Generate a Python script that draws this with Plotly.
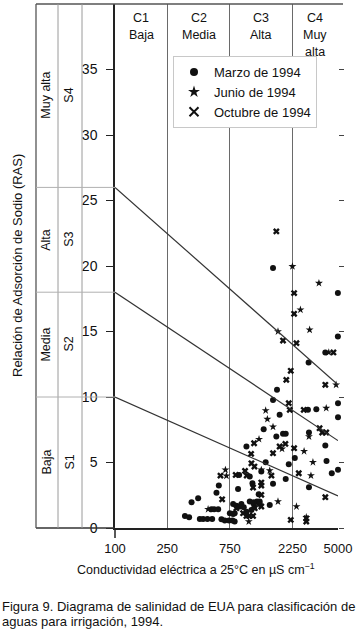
import math
import plotly.graph_objects as go

# ---------------- data ----------------
x_ticks = [100, 250, 750, 2250, 5000]
y_ticks = [0, 5, 10, 15, 20, 25, 30, 35]
ec_class_bounds = [100, 250, 750, 2250, 5000]
ec_class_labels = [["C1", "Baja"], ["C2", "Media"], ["C3", "Alta"], ["C4", "Muy", "alta"]]
sar_class_bounds = [0, 10, 18, 26, 40]
sar_class_names = ["Baja", "Media", "Alta", "Muy alta"]
sar_class_codes = ["S1", "S2", "S3", "S4"]

boundary_ec = [100, 5000]
boundary_sar_start = [10, 18, 26]
boundary_sar_end = [2.45, 6.67, 10.94]

marzo_ec = [1599, 4990, 4990, 4003, 2986, 1715, 1599, 5000, 2951, 3419, 5000, 1796, 1357, 1695, 1906,
            1998, 3004, 4003, 1003, 2343, 1406, 2108, 4087, 5000, 4483, 882, 1063, 1302, 1599, 1998,
            3004, 618, 593, 866, 1115, 1244, 383, 430, 1510, 794, 841, 892, 918, 957, 1063,
            1141, 1208, 1266, 1266, 1003, 1095, 543, 569, 611, 816, 750, 794, 341, 367, 443,
            469, 506, 550, 647, 686, 739, 785, 816]
marzo_sar = [19.84, 17.93, 14.62, 13.40, 12.63, 10.55, 9.78, 9.53, 9.02, 9.07, 8.46, 8.64, 7.54, 6.98, 7.19,
             7.19, 7.29, 6.29, 6.22, 5.35, 5.02, 4.87, 5.12, 4.44, 4.18, 4.05, 3.93, 4.31, 3.37, 3.75,
             3.11, 3.24, 2.70, 2.98, 3.42, 2.58, 1.97, 2.27, 1.76, 1.84, 1.69, 1.64, 1.84, 1.58, 2.02,
             1.97, 2.02, 2.02, 1.84, 1.25, 1.38, 1.43, 1.43, 1.43, 1.13, 1.13, 1.07, 0.92, 0.82, 0.69,
             0.69, 0.69, 0.69, 0.67, 0.57, 0.57, 0.57, 0.49]

junio_ec = [2248, 3579, 2587, 1745, 3039, 4253, 4836, 4067, 1406, 1448, 1599, 3004, 1251, 1873, 2758,
            3221, 3111, 694, 1302, 1510, 706, 1745, 2412, 512, 1045, 2866]
junio_sar = [19.97, 18.69, 16.66, 15.00, 15.13, 13.40, 10.93, 9.15, 8.97, 8.31, 7.72, 6.98, 6.78, 6.04, 5.86,
             5.02, 4.00, 4.44, 4.44, 4.38, 3.98, 2.02, 1.64, 1.43, 0.49, 0.82]

octubre_ec = [1695, 2315, 2315, 1906, 2412, 4615, 2183, 2019, 4003, 2108, 2145, 2742, 3619, 3788, 4067,
              1147, 1796, 1986, 2315, 1599, 1089, 1095, 1154, 2512, 636, 831, 979, 1008, 1555, 4003,
              655, 1127, 1302, 1302, 1302, 841, 1141, 1302, 1160, 946, 1003, 1051, 1127, 2183, 2866,
              2866]
octubre_sar = [22.64, 17.93, 16.35, 14.31, 14.11, 13.40, 12.00, 11.31, 10.93, 9.53, 9.02, 9.02, 7.62, 7.29, 7.29,
               6.47, 6.22, 6.42, 6.09, 5.71, 5.66, 4.94, 4.69, 4.18, 4.00, 4.05, 4.36, 4.00, 4.00, 2.35,
               2.19, 3.09, 3.47, 3.24, 2.53, 1.51, 1.64, 1.64, 1.51, 1.13, 0.92, 0.92, 0.92, 0.62, 0.74,
               0.49]

series_names = ["Marzo de 1994", "Junio de 1994", "Octubre de 1994"]

# ---------------- figure ----------------
FONT = "Liberation Sans, Arial, Helvetica, sans-serif"
NARROW = "Liberation Sans Narrow, Arial Narrow, Liberation Sans, sans-serif"
INK = "#111111"

fig = go.Figure()

# class boundary lines (drawn on the mirrored right-hand y axis, same scale)
for s0, s1 in zip(boundary_sar_start, boundary_sar_end):
    fig.add_trace(go.Scatter(x=boundary_ec, y=[s0, s1], mode="lines", yaxis="y2",
                             line=dict(color="#333333", width=1.2),
                             showlegend=False, hoverinfo="skip"))

fig.add_trace(go.Scatter(x=marzo_ec, y=marzo_sar, mode="markers", name=series_names[0],
                         marker=dict(symbol="circle", size=6, color=INK),
                         cliponaxis=False, showlegend=False))
fig.add_trace(go.Scatter(x=junio_ec, y=junio_sar, mode="markers", name=series_names[1],
                         marker=dict(symbol="star", size=6, color=INK),
                         cliponaxis=False, showlegend=False))
fig.add_trace(go.Scatter(x=octubre_ec, y=octubre_sar, mode="markers", name=series_names[2],
                         marker=dict(symbol="x", size=6, color=INK, line=dict(width=0)),
                         cliponaxis=False, showlegend=False))

fig.add_trace(go.Scatter(x=[None], y=[None], mode="markers", name=series_names[0],
                         marker=dict(symbol="circle", size=8, color=INK)))
fig.add_trace(go.Scatter(x=[None], y=[None], mode="markers", name=series_names[1],
                         marker=dict(symbol="star", size=9, color=INK)))
fig.add_trace(go.Scatter(x=[None], y=[None], mode="markers", name=series_names[2],
                         marker=dict(symbol="x-thin-open", size=9, color=INK,
                                     line=dict(width=2, color=INK))))

PW = 223.0
PH = 524.0
def px_to_paper_x(px):
    return (px - 115.0) / PW

def py_to_paper_y(py):
    return (528.0 - py) / PH

tbl_left = px_to_paper_x(36)
tbl_col1 = px_to_paper_x(58)
tbl_col2 = px_to_paper_x(82)

shapes = []
shapes.append(dict(type="line", xref="paper", yref="paper", x0=tbl_left, x1=px_to_paper_x(343),
                   y0=1, y1=1, line=dict(color="#555555", width=1.5)))
shapes.append(dict(type="line", xref="paper", yref="paper", x0=tbl_left, x1=0,
                   y0=0, y1=0, line=dict(color="#333333", width=1.5)))
shapes.append(dict(type="line", xref="paper", yref="paper", x0=tbl_left, x1=tbl_left,
                   y0=0, y1=1, line=dict(color="#555555", width=1.3)))
for xc in (tbl_col1, tbl_col2):
    shapes.append(dict(type="line", xref="paper", yref="paper", x0=xc, x1=xc,
                       y0=0, y1=1, line=dict(color="#9a9a9a", width=1)))
for b in sar_class_bounds[1:-1]:
    shapes.append(dict(type="line", xref="paper", yref="y", x0=tbl_left, x1=0,
                       y0=b, y1=b, line=dict(color="#b0b0b0", width=1)))
shapes.append(dict(type="line", xref="paper", yref="paper", x0=0, x1=0,
                   y0=0, y1=-10 / PH, line=dict(color="#222222", width=1.5)))

annotations = []
for i in range(4):
    mid = (sar_class_bounds[i] + sar_class_bounds[i + 1]) / 2
    annotations.append(dict(text=sar_class_names[i], xref="paper", yref="y",
                            x=px_to_paper_x(46), y=mid, textangle=-90, showarrow=False,
                            xanchor="center", yanchor="middle",
                            font=dict(size=12.5, color=INK, family=FONT)))
    annotations.append(dict(text=sar_class_codes[i], xref="paper", yref="y",
                            x=px_to_paper_x(69), y=mid, textangle=-90, showarrow=False,
                            xanchor="center", yanchor="middle",
                            font=dict(size=12.5, color=INK, family=FONT)))

header_py = [18, 35, 52]
for i, lines in enumerate(ec_class_labels):
    xm = (math.log10(ec_class_bounds[i]) + math.log10(ec_class_bounds[i + 1])) / 2
    for j, t in enumerate(lines):
        annotations.append(dict(text=t, xref="x", yref="paper", x=xm,
                                y=py_to_paper_y(header_py[j]), xanchor="center", yanchor="middle",
                                showarrow=False, font=dict(size=12.5, color=INK, family=FONT)))

annotations.append(dict(text="Relación de Adsorción de Sodio (RAS)", xref="paper", yref="paper",
                        x=px_to_paper_x(17), y=0.5, textangle=-90, showarrow=False,
                        xanchor="center", yanchor="middle",
                        font=dict(size=13, color=INK, family=FONT)))
annotations.append(dict(text="Conductividad eléctrica a 25°C en µS cm<sup>−1</sup>", xref="paper",
                        yref="paper", x=px_to_paper_x(196), y=py_to_paper_y(569),
                        xanchor="center", yanchor="middle",
                        showarrow=False, font=dict(size=12.5, color=INK, family=FONT)))
annotations.append(dict(text="Figura 9. Diagrama de salinidad de EUA para clasificación de",
                        xref="paper", yref="paper", x=px_to_paper_x(0), xanchor="left",
                        y=py_to_paper_y(606), yanchor="middle", showarrow=False,
                        font=dict(size=13, color=INK, family=FONT)))
annotations.append(dict(text="aguas para irrigación, 1994.",
                        xref="paper", yref="paper", x=px_to_paper_x(0), xanchor="left",
                        y=py_to_paper_y(621), yanchor="middle", showarrow=False,
                        font=dict(size=13, color=INK, family=FONT)))

fig.update_layout(
    width=360, height=633,
    margin=dict(l=115, r=22, t=4, b=105),
    paper_bgcolor="white", plot_bgcolor="white",
    font=dict(family=FONT, size=12.5, color=INK),
    shapes=shapes, annotations=annotations,
    legend=dict(x=px_to_paper_x(173), y=py_to_paper_y(56), xanchor="left", yanchor="top",
                bgcolor="white", bordercolor="#c8c8c8", borderwidth=1,
                font=dict(size=13, color=INK, family=FONT), tracegroupgap=0),
    xaxis=dict(type="log", range=[math.log10(100), math.log10(5000)],
               tickvals=x_ticks, ticktext=[str(v) for v in x_ticks],
               showgrid=True, gridcolor="#6a6a6a", gridwidth=1.3,
               showline=True, linecolor="#222222", linewidth=1.5,
               ticks="", zeroline=False, ticklabelstandoff=8,
               tickfont=dict(family=NARROW, size=13, color=INK)),
    yaxis=dict(range=[0, 40], tickvals=y_ticks, showgrid=False, zeroline=False,
               showline=True, linecolor="#222222", linewidth=1.5,
               ticks="outside", ticklen=7, tickwidth=1.3, tickcolor="#222222",
               ticklabelstandoff=6,
               tickfont=dict(family=NARROW, size=14, color=INK)),
    yaxis2=dict(range=[0, 40], tickvals=y_ticks, overlaying="y", side="right",
                showticklabels=False, showgrid=False, zeroline=False, showline=False,
                ticks="outside", ticklen=5, tickwidth=1.2, tickcolor="#444444"),
    showlegend=True,
)

fig.write_html("out.html", config={"displayModeBar": False},
               post_script="document.body.style.margin='0';document.body.style.padding='0';")
